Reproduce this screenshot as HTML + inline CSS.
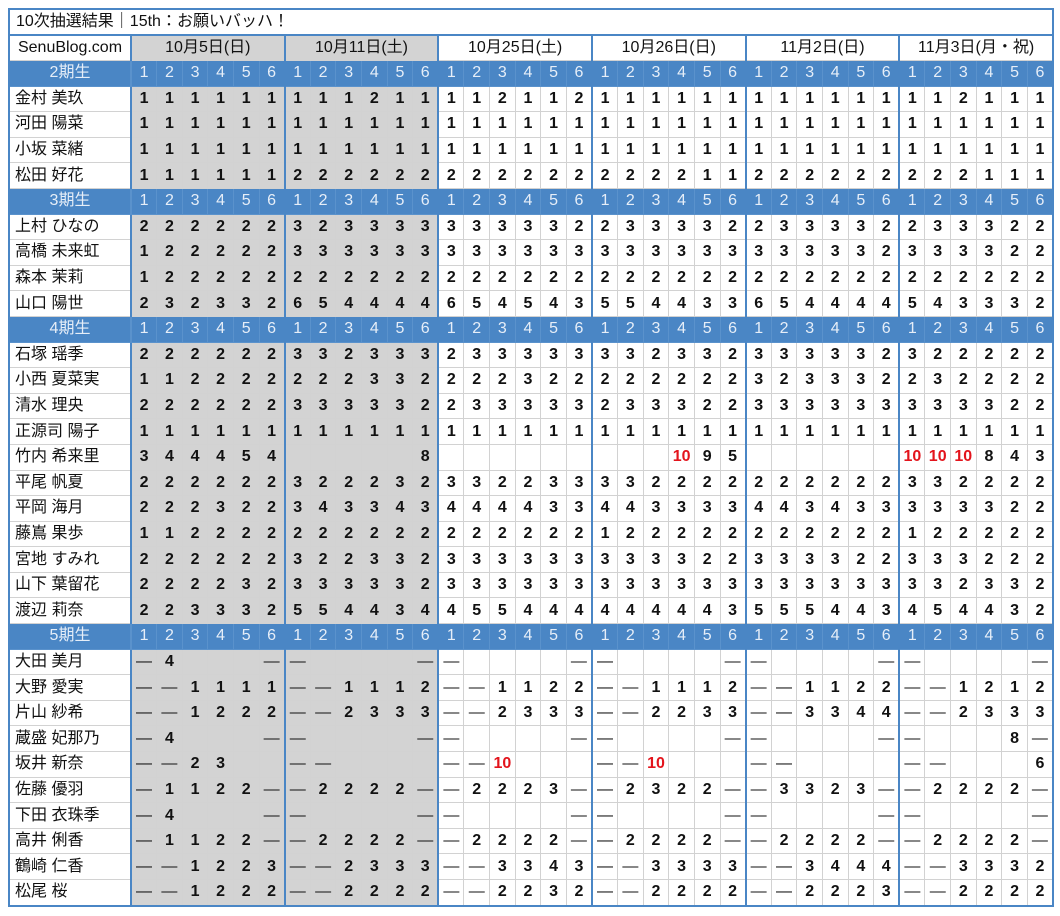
<!DOCTYPE html>
<html><head><meta charset="utf-8">
<style>
body{margin:0;background:#fff;width:1060px;height:916px;overflow:hidden}
table{position:absolute;left:8px;top:8px;width:1046px;border-collapse:collapse;table-layout:fixed;font-family:"Liberation Sans","Noto Sans CJK JP",sans-serif;border:2px solid #4a86c5}
td,th{border:1px solid #d2d2d2;padding:0;text-align:center;font-size:16px;font-weight:bold;color:#111;height:24.6px;line-height:20px;overflow:hidden;white-space:nowrap}
th{font-weight:normal;text-align:left;padding-left:5px;font-size:16px;border-right:2px solid #4a86c5}
col.g{background:#d3d3d3}
col.s{border-left:2px solid #4a86c5}
tr.t td{text-align:left;font-weight:normal;padding-left:6px;height:24px;border-bottom:2px solid #4a86c5;background:#fff}
tr.d td{font-weight:normal;height:24px;border:1px solid #d2d2d2;border-left:2px solid #4a86c5;background:#fff}
tr.d td.gd{background:#d3d3d3}
tr.d td.c{text-align:center;border-left:1px solid #d2d2d2}
tr.h td,tr.h th{background:#4a86c5;color:#e6eef8;font-weight:normal;border-color:#5a92cc;font-size:16px}
tr.h th{text-align:center;padding:0}
.r{color:#e3141c}
.m{font-weight:normal}
</style></head><body>
<table>
<colgroup><col style="width:122px"><col class="g s"><col class="g"><col class="g"><col class="g"><col class="g"><col class="g"><col class="g s"><col class="g"><col class="g"><col class="g"><col class="g"><col class="g"><col class="s"><col><col><col><col><col><col class="s"><col><col><col><col><col><col class="s"><col><col><col><col><col><col class="s"><col><col><col><col><col></colgroup>
<tr class="t"><td colspan="37">10次抽選結果｜15th：お願いバッハ！</td></tr>
<tr class="d"><td class="c">SenuBlog.com</td><td colspan="6" class="gd">10月5日(日)</td><td colspan="6" class="gd">10月11日(土)</td><td colspan="6">10月25日(土)</td><td colspan="6">10月26日(日)</td><td colspan="6">11月2日(日)</td><td colspan="6">11月3日(月・祝)</td></tr>
<tr class="h"><th>2期生</th><td>1<td>2<td>3<td>4<td>5<td>6<td>1<td>2<td>3<td>4<td>5<td>6<td>1<td>2<td>3<td>4<td>5<td>6<td>1<td>2<td>3<td>4<td>5<td>6<td>1<td>2<td>3<td>4<td>5<td>6<td>1<td>2<td>3<td>4<td>5<td>6</tr>
<tr><th>金村 美玖</th><td>1<td>1<td>1<td>1<td>1<td>1<td>1<td>1<td>1<td>2<td>1<td>1<td>1<td>1<td>2<td>1<td>1<td>2<td>1<td>1<td>1<td>1<td>1<td>1<td>1<td>1<td>1<td>1<td>1<td>1<td>1<td>1<td>2<td>1<td>1<td>1</tr>
<tr><th>河田 陽菜</th><td>1<td>1<td>1<td>1<td>1<td>1<td>1<td>1<td>1<td>1<td>1<td>1<td>1<td>1<td>1<td>1<td>1<td>1<td>1<td>1<td>1<td>1<td>1<td>1<td>1<td>1<td>1<td>1<td>1<td>1<td>1<td>1<td>1<td>1<td>1<td>1</tr>
<tr><th>小坂 菜緒</th><td>1<td>1<td>1<td>1<td>1<td>1<td>1<td>1<td>1<td>1<td>1<td>1<td>1<td>1<td>1<td>1<td>1<td>1<td>1<td>1<td>1<td>1<td>1<td>1<td>1<td>1<td>1<td>1<td>1<td>1<td>1<td>1<td>1<td>1<td>1<td>1</tr>
<tr><th>松田 好花</th><td>1<td>1<td>1<td>1<td>1<td>1<td>2<td>2<td>2<td>2<td>2<td>2<td>2<td>2<td>2<td>2<td>2<td>2<td>2<td>2<td>2<td>2<td>1<td>1<td>2<td>2<td>2<td>2<td>2<td>2<td>2<td>2<td>2<td>1<td>1<td>1</tr>
<tr class="h"><th>3期生</th><td>1<td>2<td>3<td>4<td>5<td>6<td>1<td>2<td>3<td>4<td>5<td>6<td>1<td>2<td>3<td>4<td>5<td>6<td>1<td>2<td>3<td>4<td>5<td>6<td>1<td>2<td>3<td>4<td>5<td>6<td>1<td>2<td>3<td>4<td>5<td>6</tr>
<tr><th>上村 ひなの</th><td>2<td>2<td>2<td>2<td>2<td>2<td>3<td>2<td>3<td>3<td>3<td>3<td>3<td>3<td>3<td>3<td>3<td>2<td>2<td>3<td>3<td>3<td>3<td>2<td>2<td>3<td>3<td>3<td>3<td>2<td>2<td>3<td>3<td>3<td>2<td>2</tr>
<tr><th>高橋 未来虹</th><td>1<td>2<td>2<td>2<td>2<td>2<td>3<td>3<td>3<td>3<td>3<td>3<td>3<td>3<td>3<td>3<td>3<td>3<td>3<td>3<td>3<td>3<td>3<td>3<td>3<td>3<td>3<td>3<td>3<td>2<td>3<td>3<td>3<td>3<td>2<td>2</tr>
<tr><th>森本 茉莉</th><td>1<td>2<td>2<td>2<td>2<td>2<td>2<td>2<td>2<td>2<td>2<td>2<td>2<td>2<td>2<td>2<td>2<td>2<td>2<td>2<td>2<td>2<td>2<td>2<td>2<td>2<td>2<td>2<td>2<td>2<td>2<td>2<td>2<td>2<td>2<td>2</tr>
<tr><th>山口 陽世</th><td>2<td>3<td>2<td>3<td>3<td>2<td>6<td>5<td>4<td>4<td>4<td>4<td>6<td>5<td>4<td>5<td>4<td>3<td>5<td>5<td>4<td>4<td>3<td>3<td>6<td>5<td>4<td>4<td>4<td>4<td>5<td>4<td>3<td>3<td>3<td>2</tr>
<tr class="h"><th>4期生</th><td>1<td>2<td>3<td>4<td>5<td>6<td>1<td>2<td>3<td>4<td>5<td>6<td>1<td>2<td>3<td>4<td>5<td>6<td>1<td>2<td>3<td>4<td>5<td>6<td>1<td>2<td>3<td>4<td>5<td>6<td>1<td>2<td>3<td>4<td>5<td>6</tr>
<tr><th>石塚 瑶季</th><td>2<td>2<td>2<td>2<td>2<td>2<td>3<td>3<td>2<td>3<td>3<td>3<td>2<td>3<td>3<td>3<td>3<td>3<td>3<td>3<td>2<td>3<td>3<td>2<td>3<td>3<td>3<td>3<td>3<td>2<td>3<td>2<td>2<td>2<td>2<td>2</tr>
<tr><th>小西 夏菜実</th><td>1<td>1<td>2<td>2<td>2<td>2<td>2<td>2<td>2<td>3<td>3<td>2<td>2<td>2<td>2<td>3<td>2<td>2<td>2<td>2<td>2<td>2<td>2<td>2<td>3<td>2<td>3<td>3<td>3<td>2<td>2<td>3<td>2<td>2<td>2<td>2</tr>
<tr><th>清水 理央</th><td>2<td>2<td>2<td>2<td>2<td>2<td>3<td>3<td>3<td>3<td>3<td>2<td>2<td>3<td>3<td>3<td>3<td>3<td>2<td>3<td>3<td>3<td>2<td>2<td>3<td>3<td>3<td>3<td>3<td>3<td>3<td>3<td>3<td>3<td>2<td>2</tr>
<tr><th>正源司 陽子</th><td>1<td>1<td>1<td>1<td>1<td>1<td>1<td>1<td>1<td>1<td>1<td>1<td>1<td>1<td>1<td>1<td>1<td>1<td>1<td>1<td>1<td>1<td>1<td>1<td>1<td>1<td>1<td>1<td>1<td>1<td>1<td>1<td>1<td>1<td>1<td>1</tr>
<tr><th>竹内 希来里</th><td>3<td>4<td>4<td>4<td>5<td>4<td><td><td><td><td><td>8<td><td><td><td><td><td><td><td><td><td class="r">10<td>9<td>5<td><td><td><td><td><td><td class="r">10<td class="r">10<td class="r">10<td>8<td>4<td>3</tr>
<tr><th>平尾 帆夏</th><td>2<td>2<td>2<td>2<td>2<td>2<td>3<td>2<td>2<td>2<td>3<td>2<td>3<td>3<td>2<td>2<td>3<td>3<td>3<td>3<td>2<td>2<td>2<td>2<td>2<td>2<td>2<td>2<td>2<td>2<td>3<td>3<td>2<td>2<td>2<td>2</tr>
<tr><th>平岡 海月</th><td>2<td>2<td>2<td>3<td>2<td>2<td>3<td>4<td>3<td>3<td>4<td>3<td>4<td>4<td>4<td>4<td>3<td>3<td>4<td>4<td>3<td>3<td>3<td>3<td>4<td>4<td>3<td>4<td>3<td>3<td>3<td>3<td>3<td>3<td>2<td>2</tr>
<tr><th>藤嶌 果歩</th><td>1<td>1<td>2<td>2<td>2<td>2<td>2<td>2<td>2<td>2<td>2<td>2<td>2<td>2<td>2<td>2<td>2<td>2<td>1<td>2<td>2<td>2<td>2<td>2<td>2<td>2<td>2<td>2<td>2<td>2<td>1<td>2<td>2<td>2<td>2<td>2</tr>
<tr><th>宮地 すみれ</th><td>2<td>2<td>2<td>2<td>2<td>2<td>3<td>2<td>2<td>3<td>3<td>2<td>3<td>3<td>3<td>3<td>3<td>3<td>3<td>3<td>3<td>3<td>2<td>2<td>3<td>3<td>3<td>3<td>2<td>2<td>3<td>3<td>3<td>2<td>2<td>2</tr>
<tr><th>山下 葉留花</th><td>2<td>2<td>2<td>2<td>3<td>2<td>3<td>3<td>3<td>3<td>3<td>2<td>3<td>3<td>3<td>3<td>3<td>3<td>3<td>3<td>3<td>3<td>3<td>3<td>3<td>3<td>3<td>3<td>3<td>3<td>3<td>3<td>2<td>3<td>3<td>2</tr>
<tr><th>渡辺 莉奈</th><td>2<td>2<td>3<td>3<td>3<td>2<td>5<td>5<td>4<td>4<td>3<td>4<td>4<td>5<td>5<td>4<td>4<td>4<td>4<td>4<td>4<td>4<td>4<td>3<td>5<td>5<td>5<td>4<td>4<td>3<td>4<td>5<td>4<td>4<td>3<td>2</tr>
<tr class="h"><th>5期生</th><td>1<td>2<td>3<td>4<td>5<td>6<td>1<td>2<td>3<td>4<td>5<td>6<td>1<td>2<td>3<td>4<td>5<td>6<td>1<td>2<td>3<td>4<td>5<td>6<td>1<td>2<td>3<td>4<td>5<td>6<td>1<td>2<td>3<td>4<td>5<td>6</tr>
<tr><th>大田 美月</th><td class="m">—<td>4<td><td><td><td class="m">—<td class="m">—<td><td><td><td><td class="m">—<td class="m">—<td><td><td><td><td class="m">—<td class="m">—<td><td><td><td><td class="m">—<td class="m">—<td><td><td><td><td class="m">—<td class="m">—<td><td><td><td><td class="m">—</tr>
<tr><th>大野 愛実</th><td class="m">—<td class="m">—<td>1<td>1<td>1<td>1<td class="m">—<td class="m">—<td>1<td>1<td>1<td>2<td class="m">—<td class="m">—<td>1<td>1<td>2<td>2<td class="m">—<td class="m">—<td>1<td>1<td>1<td>2<td class="m">—<td class="m">—<td>1<td>1<td>2<td>2<td class="m">—<td class="m">—<td>1<td>2<td>1<td>2</tr>
<tr><th>片山 紗希</th><td class="m">—<td class="m">—<td>1<td>2<td>2<td>2<td class="m">—<td class="m">—<td>2<td>3<td>3<td>3<td class="m">—<td class="m">—<td>2<td>3<td>3<td>3<td class="m">—<td class="m">—<td>2<td>2<td>3<td>3<td class="m">—<td class="m">—<td>3<td>3<td>4<td>4<td class="m">—<td class="m">—<td>2<td>3<td>3<td>3</tr>
<tr><th>蔵盛 妃那乃</th><td class="m">—<td>4<td><td><td><td class="m">—<td class="m">—<td><td><td><td><td class="m">—<td class="m">—<td><td><td><td><td class="m">—<td class="m">—<td><td><td><td><td class="m">—<td class="m">—<td><td><td><td><td class="m">—<td class="m">—<td><td><td><td>8<td class="m">—</tr>
<tr><th>坂井 新奈</th><td class="m">—<td class="m">—<td>2<td>3<td><td><td class="m">—<td class="m">—<td><td><td><td><td class="m">—<td class="m">—<td class="r">10<td><td><td><td class="m">—<td class="m">—<td class="r">10<td><td><td><td class="m">—<td class="m">—<td><td><td><td><td class="m">—<td class="m">—<td><td><td><td>6</tr>
<tr><th>佐藤 優羽</th><td class="m">—<td>1<td>1<td>2<td>2<td class="m">—<td class="m">—<td>2<td>2<td>2<td>2<td class="m">—<td class="m">—<td>2<td>2<td>2<td>3<td class="m">—<td class="m">—<td>2<td>3<td>2<td>2<td class="m">—<td class="m">—<td>3<td>3<td>2<td>3<td class="m">—<td class="m">—<td>2<td>2<td>2<td>2<td class="m">—</tr>
<tr><th>下田 衣珠季</th><td class="m">—<td>4<td><td><td><td class="m">—<td class="m">—<td><td><td><td><td class="m">—<td class="m">—<td><td><td><td><td class="m">—<td class="m">—<td><td><td><td><td class="m">—<td class="m">—<td><td><td><td><td class="m">—<td class="m">—<td><td><td><td><td class="m">—</tr>
<tr><th>高井 俐香</th><td class="m">—<td>1<td>1<td>2<td>2<td class="m">—<td class="m">—<td>2<td>2<td>2<td>2<td class="m">—<td class="m">—<td>2<td>2<td>2<td>2<td class="m">—<td class="m">—<td>2<td>2<td>2<td>2<td class="m">—<td class="m">—<td>2<td>2<td>2<td>2<td class="m">—<td class="m">—<td>2<td>2<td>2<td>2<td class="m">—</tr>
<tr><th>鶴崎 仁香</th><td class="m">—<td class="m">—<td>1<td>2<td>2<td>3<td class="m">—<td class="m">—<td>2<td>3<td>3<td>3<td class="m">—<td class="m">—<td>3<td>3<td>4<td>3<td class="m">—<td class="m">—<td>3<td>3<td>3<td>3<td class="m">—<td class="m">—<td>3<td>4<td>4<td>4<td class="m">—<td class="m">—<td>3<td>3<td>3<td>2</tr>
<tr><th>松尾 桜</th><td class="m">—<td class="m">—<td>1<td>2<td>2<td>2<td class="m">—<td class="m">—<td>2<td>2<td>2<td>2<td class="m">—<td class="m">—<td>2<td>2<td>3<td>2<td class="m">—<td class="m">—<td>2<td>2<td>2<td>2<td class="m">—<td class="m">—<td>2<td>2<td>2<td>3<td class="m">—<td class="m">—<td>2<td>2<td>2<td>2</tr>
</table>
</body></html>
